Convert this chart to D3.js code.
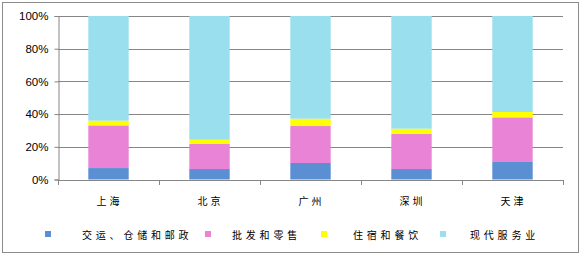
<!DOCTYPE html>
<html>
<head>
<meta charset="utf-8">
<script src="https://cdn.jsdelivr.net/npm/d3@7"></script>
<style>
body { margin: 0; background: #fff; }
</style>
</head>
<body>
<div class="canva"></div>
<script>
// data (percent shares)
const cities = ['上海', '北京', '广州', '深圳', '天津']
const seriesNames = ['交运、仓储和邮政', '批发和零售', '住宿和餐饮', '现代服务业']
const transport = [7.0, 6.4, 10.1, 6.4, 10.7]
const wholesale = [26.1, 15.3, 22.6, 21.6, 27.3]
const hotel = [2.9, 2.6, 4.5, 3.1, 3.3]
const modern = [64.0, 75.7, 62.8, 68.9, 58.7]
const yTicks = [0, 20, 40, 60, 80, 100]
const colors = ['#5b8fd4', '#e983d6', '#ffff00', '#9adfee']

const W = 581, H = 255
const svg = d3.select('.canva').append('svg')
    .attr('width', W)
    .attr('height', H)
    .style('display', 'block')

// outer frame
svg.append('rect')
    .attr('x', 2.5).attr('y', 2.5)
    .attr('width', 576).attr('height', 250)
    .attr('fill', '#fff')
    .attr('stroke', '#8c8c8c')

const plotL = 58, plotR = 563, plotT = 16, plotB = 179.5

const x = d3.scaleBand().domain(cities).range([plotL, plotR]).paddingInner(0.6).paddingOuter(0.3)
const y = d3.scaleLinear().domain([0, 100]).range([plotB, plotT])

// gridlines
svg.append('g').selectAll('line')
    .data(yTicks.filter(d => d > 0))
    .enter().append('line')
    .attr('x1', plotL).attr('x2', plotR)
    .attr('y1', d => Math.round(y(d)) + 0.5)
    .attr('y2', d => Math.round(y(d)) + 0.5)
    .attr('stroke', '#868686')

// y axis
const yAxis = svg.append('g')
    .attr('transform', `translate(${plotL + 0.5},0)`)
    .call(d3.axisLeft(y).tickValues(yTicks).tickFormat(d => d + '%').tickSize(4).tickPadding(6))
yAxis.select('.domain').attr('stroke', '#868686')
yAxis.selectAll('line').attr('stroke', '#868686')
yAxis.selectAll('text')
    .attr('font-family', 'Liberation Sans, Arial, sans-serif')
    .attr('font-size', '11.5px')
    .attr('fill', '#000')

// stacked bars
const rows = cities.map((c, i) => ({
    city: c,
    v0: transport[i], v1: wholesale[i], v2: hotel[i], v3: modern[i]
}))
const stack = d3.stack().keys(['v0', 'v1', 'v2', 'v3'])
const layers = stack(rows)

svg.append('g').selectAll('g')
    .data(layers)
    .enter().append('g')
    .attr('fill', (d, i) => colors[i])
    .selectAll('rect')
    .data(d => d)
    .enter().append('rect')
    .attr('x', d => x(d.data.city))
    .attr('width', x.bandwidth())
    .attr('y', d => y(d[1]))
    .attr('height', d => y(d[0]) - y(d[1]))

// x axis line + ticks between categories
const xStep = (plotR - plotL) / cities.length
const xAxis = svg.append('g')
xAxis.append('line')
    .attr('x1', plotL).attr('x2', plotR)
    .attr('y1', Math.round(plotB) + 0.5).attr('y2', Math.round(plotB) + 0.5)
    .attr('stroke', '#868686')
xAxis.selectAll('.tk')
    .data(d3.range(cities.length + 1))
    .enter().append('line')
    .attr('class', 'tk')
    .attr('x1', i => Math.round(plotL + i * xStep) + 0.5)
    .attr('x2', i => Math.round(plotL + i * xStep) + 0.5)
    .attr('y1', Math.round(plotB))
    .attr('y2', Math.round(plotB) + 5)
    .attr('stroke', '#868686')
xAxis.selectAll('text')
    .data(cities)
    .enter().append('text')
    .text(d => d)
    .attr('x', d => x(d) + x.bandwidth() / 2 + 1)
    .attr('y', 205)
    .attr('text-anchor', 'middle')
    .attr('font-family', 'Noto Sans CJK SC, sans-serif')
    .attr('font-size', '10px')
    .attr('letter-spacing', '3px')
    .attr('fill', '#000')

// legend
const legX = [45, 205, 321, 440]
const legTextX = [82, 232, 353, 470]
const leg = svg.append('g').selectAll('g')
    .data(seriesNames)
    .enter().append('g')
leg.append('rect')
    .attr('x', (d, i) => legX[i])
    .attr('y', 231)
    .attr('width', 6).attr('height', 6)
    .attr('fill', (d, i) => colors[i])
leg.append('text')
    .text(d => d)
    .attr('x', (d, i) => legTextX[i])
    .attr('y', 239)
    .attr('font-family', 'Noto Sans CJK SC, sans-serif')
    .attr('font-size', '10px')
    .attr('letter-spacing', '3.8px')
    .attr('fill', '#000')
</script>
</body>
</html>
